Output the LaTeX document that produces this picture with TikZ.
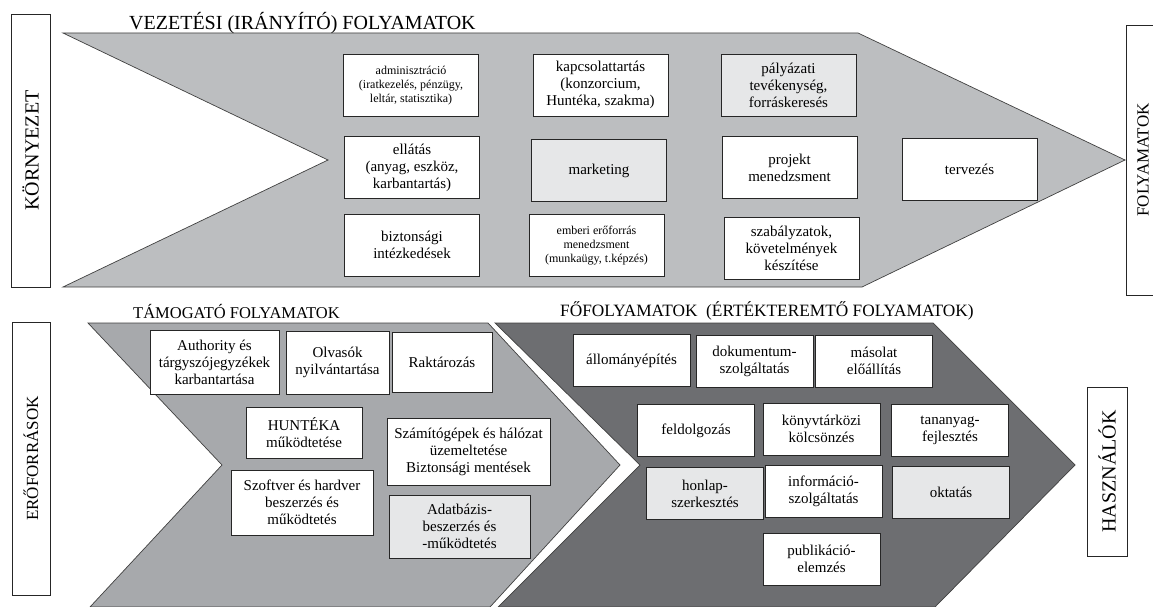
\documentclass[tikz,border=0pt]{standalone}
\usepackage{fontspec}
\setmainfont{Liberation Serif}
\definecolor{vezgray}{HTML}{BCBEC0}
\definecolor{tamgray}{HTML}{A7A9AC}
\definecolor{fogray}{HTML}{6D6E71}
\definecolor{boxgray}{HTML}{E6E7E8}
\begin{document}
\begin{tikzpicture}[x=1pt,y=-1pt,
    proc/.style={draw=black!85,fill=white,align=center,inner sep=1pt,line width=0.7pt,
      font=\fontsize{15}{17}\selectfont},
    small/.style={font=\fontsize{12}{14}\selectfont},
    light/.style={fill=boxgray},
    vsize/.style={minimum width=135pt,minimum height=62pt},
    fsize/.style={minimum width=117pt,minimum height=52pt},
    side/.style={draw=black!85,line width=0.7pt,rotate=90,inner sep=0pt,
      font=\fontsize{20}{22}\selectfont},
    title/.style={anchor=west,inner sep=0pt,font=\fontsize{16.5}{18}\selectfont}]
   \useasboundingbox (0,0) rectangle (1153,607);

   % chevrons
   \filldraw[fill=vezgray,draw=black!75,line width=0.7pt] (63,33) -- (858,33) -- (1125,160)
     -- (862,287) -- (63,287) -- (328,160) -- cycle;
   \filldraw[fill=tamgray,draw=black!75,line width=0.7pt] (88,323) -- (488,323) -- (620,465)
     -- (490,607) -- (90,607) -- (222,465) -- cycle;
   \filldraw[fill=fogray,draw=black!75,line width=0.7pt] (495,323) -- (933,323) -- (1075,465)
     -- (935,607) -- (498,607) -- (640,465) -- cycle;

   % titles
   \node[title,font=\fontsize{20}{22}\selectfont] (vezt) at (129,23) {VEZETÉSI (IRÁNYÍTÓ) FOLYAMATOK};
   \node[title] (tamt) at (133,311) {TÁMOGATÓ FOLYAMATOK};
   \node[title,font=\fontsize{17.3}{19}\selectfont] (fot) at (560,311) {FŐFOLYAMATOK\ \ (ÉRTÉKTEREMTŐ FOLYAMATOK)};

   % side boxes
   \node[side,minimum width=273pt,minimum height=39pt] (korny) at (30.5,150.5) {KÖRNYEZET};
   \node[side,minimum width=273pt,minimum height=38pt,font=\fontsize{17}{19}\selectfont] (erof) at (31,458.5) {ERŐFORRÁSOK};
   \node[side,minimum width=169pt,minimum height=40pt] (haszn) at (1107,471.5) {HASZNÁLÓK};
   \node[rotate=90,inner sep=0pt,font=\fontsize{17}{19}\selectfont] (folyt) at (1143,160) {FOLYAMATOK};
   \draw[black!85,line width=0.7pt] (1153,25) -- (1126,25) -- (1126,295) -- (1153,295);

   % vezetesi folyamatok
   \node[proc,vsize,small] (admin) at (411,85.5) {adminisztráció\\(iratkezelés, pénzügy,\\leltár, statisztika)};
   \node[proc,vsize] (kapcs) at (600.5,85) {kapcsolattartás\\(konzorcium,\\Huntéka, szakma)};
   \node[proc,vsize,light] (palyaz) at (788.5,85) {pályázati\\tevékenység,\\forráskeresés};
   \node[proc,vsize] (ellat) at (412,167.5) {ellátás\\(anyag, eszköz,\\karbantartás)};
   \node[proc,vsize,light] (market) at (599,170.5) {marketing};
   \node[proc,vsize] (projekt) at (789.5,167.5) {projekt\\menedzsment};
   \node[proc,vsize] (terv) at (969.5,169) {tervezés};
   \node[proc,vsize] (bizt) at (412,245) {biztonsági\\intézkedések};
   \node[proc,vsize,small] (ember) at (596.5,245.5) {emberi erőforrás\\menedzsment\\(munkaügy, t.képzés)};
   \node[proc,vsize] (szabaly) at (791.5,248) {szabályzatok,\\követelmények\\készítése};

   % tamogato folyamatok
   \node[proc,minimum width=129pt,minimum height=64pt] (auth) at (214.5,362) {Authority és\\tárgyszójegyzékek\\karbantartása};
   \node[proc,minimum width=103pt,minimum height=63pt] (olvas) at (337.5,362.5) {Olvasók\\nyilvántartása};
   \node[proc,minimum width=100pt,minimum height=60pt] (raktar) at (442,362) {Raktározás};
   \node[proc,minimum width=116pt,minimum height=51pt] (huntek) at (304,432.5) {HUNTÉKA\\működtetése};
   \node[proc,minimum width=163pt,minimum height=67pt] (szamit) at (468.5,451.5) {Számítógépek és hálózat\\üzemeltetése\\Biztonsági mentések};
   \node[proc,minimum width=142pt,minimum height=65pt] (szoftv) at (302,502.5) {Szoftver és hardver\\beszerzés és\\működtetés};
   \node[proc,light,minimum width=141pt,minimum height=63pt] (adatb) at (459.5,526.5) {Adatbázis-\\beszerzés és\\-működtetés};

   % fofolyamatok
   \node[proc,fsize] (allom) at (631.5,360.5) {állományépítés};
   \node[proc,fsize] (dokum) at (754.5,361) {dokumentum-\\szolgáltatás};
   \node[proc,fsize] (masol) at (874,361) {másolat\\előállítás};
   \node[proc,fsize] (feldolg) at (696,430.5) {feldolgozás};
   \node[proc,fsize] (konyvt) at (821.5,429) {könyvtárközi\\kölcsönzés};
   \node[proc,fsize] (tanany) at (950,430.5) {tananyag-\\fejlesztés};
   \node[proc,fsize,light] (honlap) at (705,493.5) {honlap-\\szerkesztés};
   \node[proc,fsize] (inform) at (823.5,491) {információ-\\szolgáltatás};
   \node[proc,fsize,light] (oktat) at (951,492.5) {oktatás};
   \node[proc,fsize] (publik) at (821.5,559) {publikáció-\\elemzés};
  \end{tikzpicture}
\end{document}
